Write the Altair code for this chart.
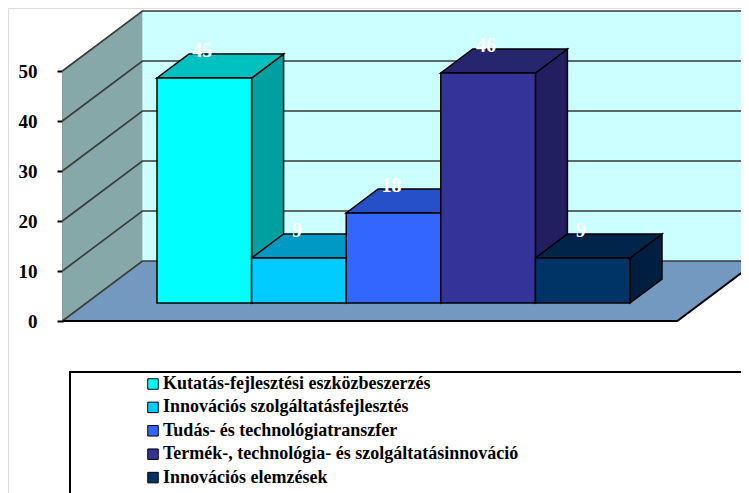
import altair as alt
import pandas as pd

# ---- data ----
categories = [
    "Kutatás-fejlesztési  eszközbeszerzés",
    "Innovációs szolgáltatásfejlesztés",
    "Tudás- és technológiatranszfer",
    "Termék-, technológia-  és szolgáltatásinnováció",
    "Innovációs elemzések",
]
values = [45, 9, 18, 46, 9]
value_labels = ["45", "9", "18", "46", "9"]
front_colors = ["#00FFFF", "#00CCFF", "#3366FF", "#333399", "#003366"]
top_colors = ["#00C0C0", "#0099C6", "#2650C8", "#26266E", "#00244A"]
side_colors = ["#00A0A0", "#0088B0", "#1E44AA", "#211F5F", "#001E40"]
y_ticks = [0, 10, 20, 30, 40, 50]
grid_levels = [0, 10, 20, 30, 40, 50]

# ---- pseudo-3D geometry (data units of the x / y scales) ----
DX = 0.8457      # depth shift along x for the full depth
DY = 12.0        # depth shift along y for the full depth
FRONT, BACK = 0.3, 0.7
WALL_TOP = 50
FLOOR_END = 6.5
FAR = 8.0
bdx = (BACK - FRONT) * DX
bdy = (BACK - FRONT) * DY
fdy = FRONT * DY

SERIF = "Liberation Serif"

xs = alt.Scale(domain=[0, 7], range=[54.4, 716.6], nice=False, zero=False)
ys = alt.Scale(domain=[0, 50], range=[313, 63], nice=False, zero=False)

AX = alt.Axis(values=y_ticks, offset=-55, domainColor="black", domainWidth=2,
              tickColor="black", tickWidth=2, tickSize=6,
              labelFont=SERIF, labelFontWeight="bold", labelFontSize=19,
              labelColor="black", labelPadding=20, grid=False, title=None,
              labelFlush=False, labelOverlap=False)


def X(f):
    return alt.X(f, type="quantitative", scale=xs, axis=None)


def Y(f):
    return alt.Y(f, type="quantitative", scale=ys, axis=AX, stack=None)


def area(df, fill, stroke=None, sw=0):
    kw = dict(fill=fill, interpolate="linear", opacity=1, fillOpacity=1, orient="vertical")
    if stroke:
        kw.update(stroke=stroke, strokeWidth=sw, strokeJoin="miter")
    return alt.Chart(df).mark_area(**kw).encode(x=X("x"), y=Y("y"), y2="y2:Q")


layers = []

# back wall
wall = pd.DataFrame({"x": [DX], "x2": [FAR], "y": [DY], "y2": [WALL_TOP + DY]})
layers.append(alt.Chart(wall).mark_rect(fill="#CCFFFF").encode(
    x=X("x"), x2="x2:Q", y=Y("y"), y2="y2:Q"))

# side wall
side_wall = pd.DataFrame({"x": [0, DX], "y": [0, DY], "y2": [WALL_TOP, WALL_TOP + DY]})
layers.append(area(side_wall, "#87A8A8"))

# floor
floor = pd.DataFrame({"x": [0, DX, FLOOR_END, FLOOR_END + DX],
                      "y": [0, 0, 0, DY], "y2": [0, DY, DY, DY]})
layers.append(area(floor, "#7399C0"))

# gridlines on side + back walls
g_rows = []
for v in grid_levels:
    for i, (gx, gy) in enumerate([(0, v), (DX, v + DY), (FAR, v + DY)]):
        g_rows.append({"g": v, "x": gx, "y": gy, "o": i})
grid = pd.DataFrame(g_rows)
layers.append(alt.Chart(grid).mark_line(color="#3A3A3A", strokeWidth=1.6).encode(
    x=X("x"), y=Y("y"), detail="g:N", order="o:Q"))

# floor front edge
edge = pd.DataFrame({"x": [0, FLOOR_END, FLOOR_END + DX], "y": [0, 0, DY], "o": [0, 1, 2]})
layers.append(alt.Chart(edge).mark_line(color="black", strokeWidth=2).encode(
    x=X("x"), y=Y("y"), order="o:Q"))

# bars: sides, then tops, then fronts
for i, v in enumerate(values):
    x0 = i + 1
    side = pd.DataFrame({"x": [x0 + 1, x0 + 1 + bdx],
                         "y": [fdy, fdy + bdy], "y2": [v + fdy, v + fdy + bdy]})
    layers.append(area(side, side_colors[i], "black", 1.5))
for i, v in enumerate(values):
    x0 = i + 1
    h = v + fdy
    top = pd.DataFrame({"x": [x0, x0 + bdx, x0 + 1, x0 + 1 + bdx],
                        "y": [h, h, h, h + bdy], "y2": [h, h + bdy, h + bdy, h + bdy]})
    layers.append(area(top, top_colors[i], "black", 1.5))

fronts = pd.DataFrame({
    "cat": categories,
    "x": [i + 1 for i in range(len(values))],
    "x2": [i + 2 for i in range(len(values))],
    "y": [fdy] * len(values),
    "y2": [v + fdy for v in values],
    "label": value_labels,
    "xc": [i + 1.5 for i in range(len(values))],
})
legend = alt.Legend(title=None, orient="none", legendX=136, legendY=367,
                    symbolType="square", symbolSize=110, symbolStrokeColor="black",
                    symbolStrokeWidth=1, symbolOpacity=1,
                    labelFont=SERIF, labelFontWeight="bold", labelFontSize=18,
                    labelColor="black", labelLimit=700, rowPadding=5.4, labelOffset=1,
                    padding=0)
layers.append(alt.Chart(fronts).mark_rect(stroke="black", strokeWidth=1.5, opacity=1).encode(
    x=X("x"), x2="x2:Q", y=Y("y"), y2="y2:Q",
    color=alt.Color("cat:N", scale=alt.Scale(domain=categories, range=front_colors),
                    legend=legend)))

# value labels
layers.append(alt.Chart(fronts).mark_text(
    color="white", font=SERIF, fontWeight="bold", fontSize=20,
    baseline="middle", align="center", dy=-27, dx=-2).encode(
    x=X("xc"), y=Y("y2"), text="label:N"))

# legend frame
frame_df = pd.DataFrame({"k": [0]})
layers.append(alt.Chart(frame_df).mark_rect(fill=None, fillOpacity=0, stroke="black", strokeWidth=2).encode(
    x=alt.value(62), x2=alt.value(760), y=alt.value(364), y2=alt.value(500)))

chart = alt.layer(*layers).properties(
    width=733, height=485,
    autosize=alt.AutoSizeParams(type="none"),
    padding=0,
).configure_view(stroke=None).configure(background="white")

chart.save("out.html", embed_options={"renderer": "svg", "actions": False})
